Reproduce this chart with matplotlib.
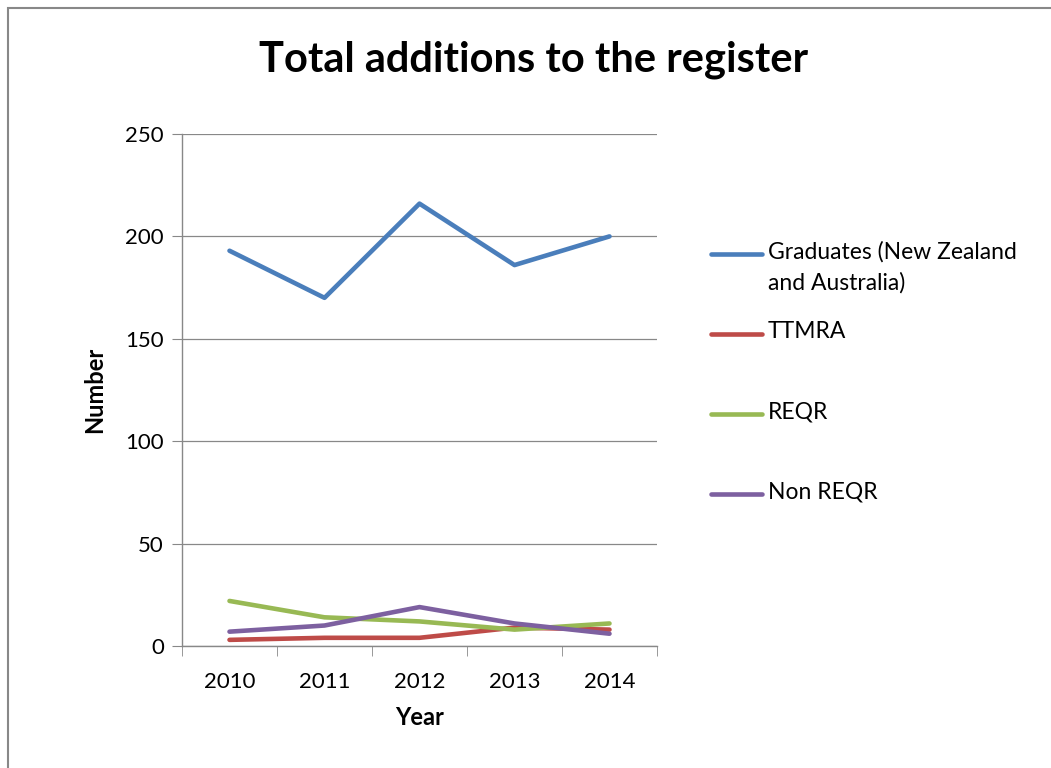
import matplotlib.pyplot as plt
from matplotlib.lines import Line2D
from matplotlib.patches import Rectangle

# data
years = ['2010', '2011', '2012', '2013', '2014']
graduates = [193, 170, 216, 186, 200]
ttmra = [3, 4, 4, 9, 8]
reqr = [22, 14, 12, 8, 11]
non_reqr = [7, 10, 19, 11, 6]

series_names = ['Graduates (New Zealand\nand Australia)', 'TTMRA', 'REQR', 'Non REQR']
series_values = [graduates, ttmra, reqr, non_reqr]
colors = ['#4A7EBB', '#BE4B48', '#98B954', '#7D60A0']

plt.rcParams['font.family'] = ['Lato', 'DejaVu Sans']

W, H = 1051, 768
fig = plt.figure(figsize=(W / 100, H / 100), dpi=100)
ax = fig.add_axes([182 / W, 1 - 646 / H, (657 - 182) / W, (646 - 134) / H])

# outer chart frame (cropped at right/bottom)
fig.add_artist(Rectangle((8 / W, -0.05), 1.1, 1 - 8 / H + 0.05, transform=fig.transFigure,
                         fill=False, edgecolor='#888888', linewidth=1.5))

x = list(range(len(years)))
for vals, c in zip(series_values, colors):
    ax.plot(x, vals, color=c, linewidth=3.3, solid_capstyle='round')

ax.set_xlim(-0.5, len(years) - 0.5)
ax.set_ylim(0, 250)
ax.set_yticks(range(0, 251, 50))
ax.set_xticks(x)
ax.set_xticklabels(years)
ax.set_xticks([i - 0.5 for i in range(len(years) + 1)], minor=True)
ax.tick_params(axis='x', which='major', length=0, labelsize=16, pad=19)
ax.tick_params(axis='x', which='minor', length=7, color='#888888', direction='out')
ax.tick_params(axis='y', length=7, color='#888888', labelsize=16, pad=6)
ax.grid(axis='y', color='#888888', linewidth=0.9)
ax.set_axisbelow(True)
for s in ['top', 'right']:
    ax.spines[s].set_visible(False)
for s in ['left', 'bottom']:
    ax.spines[s].set_color('#888888')
    ax.spines[s].set_linewidth(1.0)

ax.set_xlabel('Year', fontsize=17, fontweight='bold', labelpad=10)
ax.set_ylabel('Number', fontsize=17, fontweight='bold', labelpad=14)
fig.text(534 / W, 1 - 60 / H, 'Total additions to the register', ha='center', va='center',
         fontsize=30, fontweight='bold')

# legend on the right
leg_y = [254, 334, 414, 494]
for name, c, yy in zip(series_names, colors, leg_y):
    fig.add_artist(Line2D([711 / W, 762 / W], [1 - yy / H, 1 - yy / H], color=c,
                          linewidth=3.3, transform=fig.transFigure, solid_capstyle='round'))
    fig.text(768 / W, 1 - (yy - 13) / H, name, ha='left', va='top', fontsize=16.5,
             linespacing=1.55)

fig.savefig('out.png', dpi=100)
